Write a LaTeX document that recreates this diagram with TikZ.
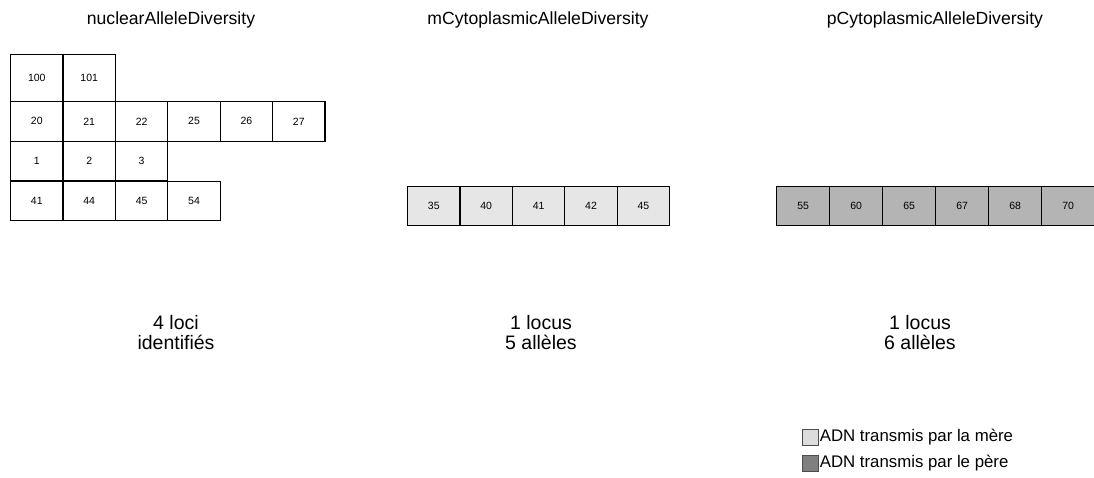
\documentclass[tikz,border=0pt]{standalone}
\usepackage{fontspec}
\setmainfont{Liberation Sans}
\usetikzlibrary{positioning}
\definecolor{motherGray}{HTML}{E6E6E6}
\definecolor{fatherGray}{HTML}{B4B4B4}
\definecolor{motherKey}{HTML}{DCDCDC}
\definecolor{fatherKey}{HTML}{7F7F7F}

\begin{document}
\begin{tikzpicture}[x=1pt,y=-1pt]

    \tikzstyle{title}=[font=\fontsize{17.6}{20}\selectfont, anchor=center]
    \tikzstyle{summary}=[font=\fontsize{19.5}{20}\selectfont, align=center, anchor=center]
    \tikzstyle{cell}=[draw=black, line width=1.2pt, rectangle, anchor=north west, inner sep=0pt, font=\fontsize{10.5}{12}\selectfont]
    \tikzstyle{nucCell}=[cell, minimum width=52.4pt, minimum height=39.5pt]
    \tikzstyle{mCell}=[cell, fill=motherGray, minimum width=52.4pt, minimum height=39pt]
    \tikzstyle{pCell}=[cell, fill=fatherGray, minimum width=53pt, minimum height=39pt]
    \tikzstyle{keyBox}=[draw=black!70, line width=0.6pt, minimum size=16pt, inner sep=0pt, anchor=north west]
    \tikzstyle{keyText}=[font=\fontsize{16.8}{18}\selectfont, inner sep=0pt, anchor=west]

    \useasboundingbox (0,0) rectangle (1094,477);

    % Spacing
    \def \cw {52.4}
    \def \pw {53}

    % Titles
    \node at (171,20)  [title] (nucTitle) {nuclearAlleleDiversity};
    \node at (538,20)  [title] (mTitle)   {mCytoplasmicAlleleDiversity};
    \node at (935,20)  [title] (pTitle)   {pCytoplasmicAlleleDiversity};

    % Nuclear loci
    \foreach \v [count=\i from 0] in {100,101}
        \node at ({10+\cw*\i},54) [nucCell, minimum height=47pt] (a\i) {\v};
    \foreach \v [count=\i from 0] in {20,21,22,25,26,27}
        \node at ({10+\cw*\i},101) [nucCell] (b\i) {\v};
    \foreach \v [count=\i from 0] in {1,2,3}
        \node at ({10+\cw*\i},140.5) [nucCell] (c\i) {\v};
    \foreach \v [count=\i from 0] in {41,44,45,54}
        \node at ({10+\cw*\i},180.5) [nucCell] (d\i) {\v};

    % Mother locus
    \foreach \v [count=\i from 0] in {35,40,41,42,45}
        \node at ({407+\cw*\i},186) [mCell] (m\i) {\v};

    % Father locus
    \foreach \v [count=\i from 0] in {55,60,65,67,68,70}
        \node at ({776+\pw*\i},186) [pCell] (p\i) {\v};

    % Summaries
    \node at (176,333) [summary] (nucSum) {4 loci\\identifiés};
    \node at (541,333) [summary] (mSum)   {1 locus\\5 allèles};
    \node at (920,333) [summary] (pSum)   {1 locus\\6 allèles};

    % Key
    \node at (802,429) [keyBox, fill=motherKey] (motherBox) {};
    \node [keyText, right=1pt of motherBox] (motherText) {ADN transmis par la mère};
    \node at (802,455) [keyBox, fill=fatherKey] (fatherBox) {};
    \node [keyText, right=1pt of fatherBox] (fatherText) {ADN transmis par le père};

\end{tikzpicture}
\end{document}
